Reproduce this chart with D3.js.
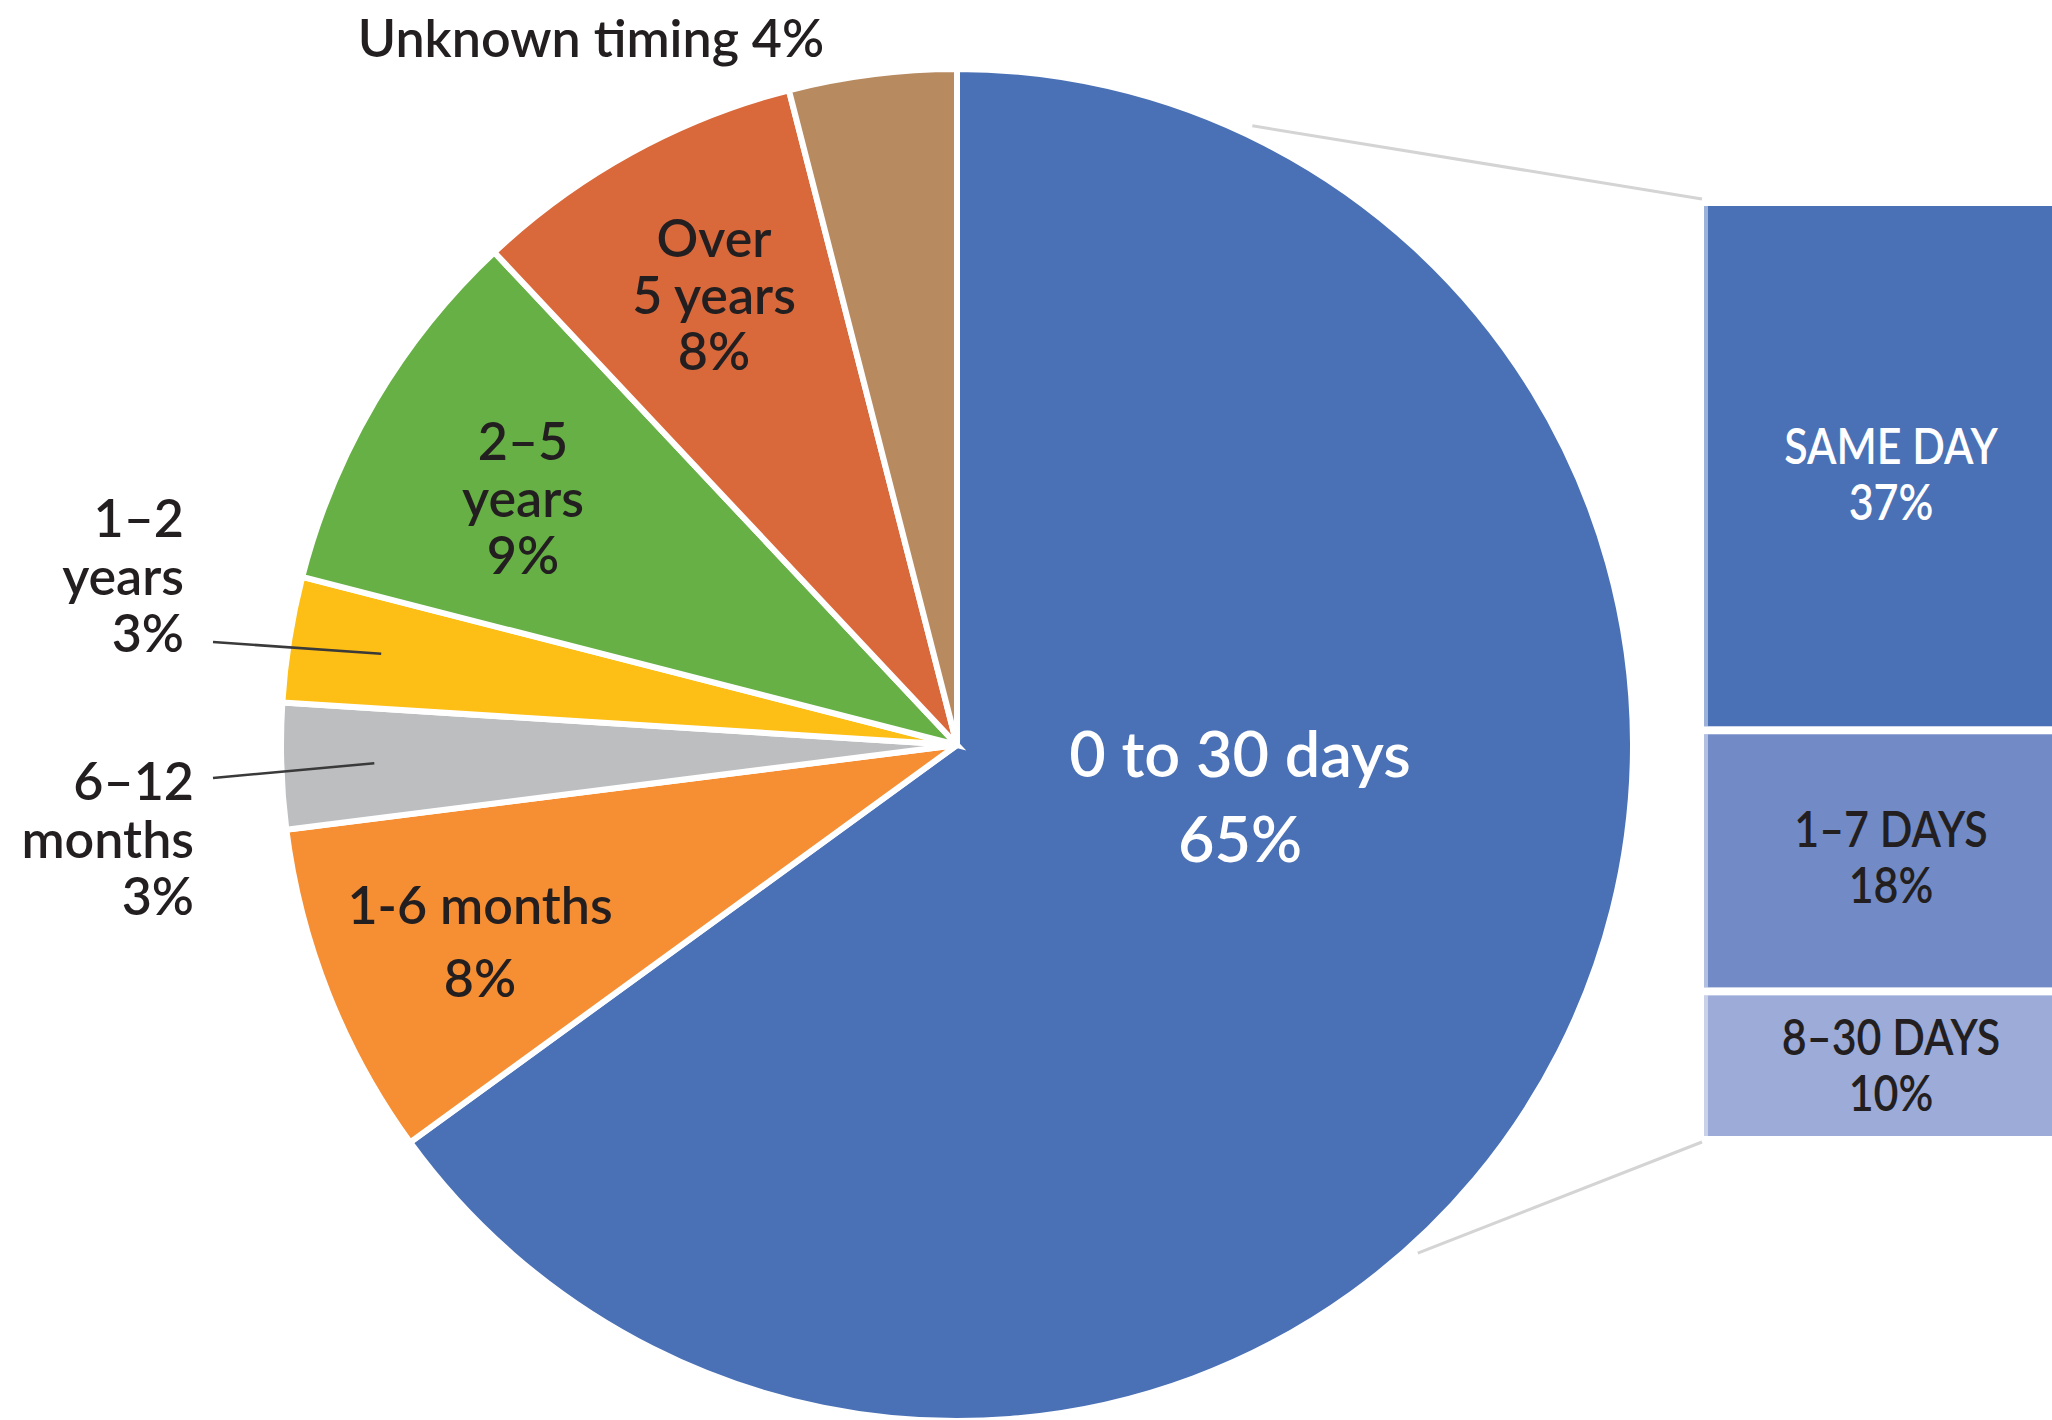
<!DOCTYPE html>
<html>
<head>
<meta charset="utf-8">
<script src="https://cdn.jsdelivr.net/npm/d3@7"></script>
<style>
  html, body { margin: 0; padding: 0; background: #ffffff; }
  svg { display: block; }
  text { font-family: Lato, "Open Sans", "Noto Sans", sans-serif; font-weight: 600; }
</style>
</head>
<body>
<svg id="chart" width="2052" height="1420"></svg>
<script>
// ---------- DATA ----------
const categories = ["0 to 30 days", "1-6 months", "6–12 months", "1–2 years", "2–5 years", "Over 5 years", "Unknown timing"];
const values = [65, 8, 3, 3, 9, 8, 4];
const labelLines = [
  ["0 to 30 days", "65%"],
  ["1-6 months", "8%"],
  ["6–12", "months", "3%"],
  ["1–2", "years", "3%"],
  ["2–5", "years", "9%"],
  ["Over", "5 years", "8%"],
  ["Unknown timing 4%"]
];
const breakdownCategories = ["SAME DAY", "1–7 DAYS", "8–30 DAYS"];
const breakdownValues = [37, 18, 10];

// ---------- STYLE / LAYOUT ----------
const sliceColors = ["#4A71B6", "#F68E33", "#BDBEC0", "#FDBE15", "#67B045", "#D9693B", "#B78A60"];
const boxColors = ["#4A71B6", "#728BC6", "#9DABD8"];
const boxTextColors = ["#ffffff", "#231F20", "#231F20"];
const textDark = "#231F20";

const cx = 957, cy = 745, R = 676;

// label layout: x, first baseline, line step, anchor, font size, color
const labelLayout = [
  { x: 1240, y: 777, step: 85, anchor: "middle", size: 63, color: "#ffffff" },
  { x: 480, y: 924, step: 73, anchor: "middle", size: 52, color: textDark },
  { x: 194, y: 800, step: 57.5, anchor: "end", size: 52, color: textDark },
  { x: 184, y: 537, step: 57.5, anchor: "end", size: 52, color: textDark },
  { x: 523, y: 460, step: 57, anchor: "middle", size: 52, color: textDark },
  { x: 714, y: 257, step: 56.5, anchor: "middle", size: 52, color: textDark },
  { x: 591, y: 57, step: 0, anchor: "middle", size: 52, color: textDark }
];
// leader lines (slice index -> outer end point)
const leaders = [
  { i: 3, x: 213, y: 642 },
  { i: 2, x: 213, y: 778 }
];

const svg = d3.select("#chart");

// ---------- PIE ----------
const pie = d3.pie().sort(null).value(d => d).startAngle(0).endAngle(2 * Math.PI);
const arcs = pie(values);
const arc = d3.arc().innerRadius(0).outerRadius(R);

const gPie = svg.append("g").attr("transform", `translate(${cx},${cy})`);
gPie.selectAll("path.slice")
  .data(arcs)
  .join("path")
  .attr("class", "slice")
  .attr("d", arc)
  .attr("fill", (d, i) => sliceColors[i])
  .attr("stroke", "#ffffff")
  .attr("stroke-width", 6)
  .attr("stroke-linejoin", "miter");

// ---------- BREAKDOWN BAR ----------
const boxX = 1704, boxW = 380, boxTop = 206, boxBottom = 1136, boxGap = 8;
const totalBreak = d3.sum(breakdownValues);
const hScale = d3.scaleLinear()
  .domain([0, totalBreak])
  .range([0, (boxBottom - boxTop) - boxGap * (breakdownValues.length - 1)]);
let acc = 0;
const boxes = breakdownValues.map((v, i) => {
  const y0 = boxTop + hScale(acc) + i * boxGap;
  acc += v;
  return { y0, h: hScale(v), v, i };
});

// connector lines from the main slice to the bar
const connectorAngles = [25.5, 137.8].map(a => a * Math.PI / 180);
const connR = R + 10;
const connPts = connectorAngles.map(a => [cx + connR * Math.sin(a), cy - connR * Math.cos(a)]);
svg.append("line")
  .attr("x1", connPts[0][0]).attr("y1", connPts[0][1])
  .attr("x2", boxX - 2).attr("y2", boxes[0].y0 - 7)
  .attr("stroke", "#D4D4D4").attr("stroke-width", 3);
const lastB = boxes[boxes.length - 1];
svg.append("line")
  .attr("x1", connPts[1][0]).attr("y1", connPts[1][1])
  .attr("x2", boxX - 2).attr("y2", lastB.y0 + lastB.h + 6)
  .attr("stroke", "#D4D4D4").attr("stroke-width", 3);

const gBox = svg.append("g");
gBox.selectAll("rect.box")
  .data(boxes)
  .join("rect")
  .attr("class", "box")
  .attr("x", boxX)
  .attr("y", d => d.y0)
  .attr("width", boxW)
  .attr("height", d => d.h)
  .attr("fill", d => boxColors[d.i]);
// light left edges
gBox.selectAll("rect.edge")
  .data(boxes)
  .join("rect")
  .attr("class", "edge")
  .attr("x", boxX)
  .attr("y", d => d.y0)
  .attr("width", 4)
  .attr("height", d => d.h)
  .attr("fill", "#ffffff")
  .attr("opacity", 0.45);

// box labels
const boxLabelX = 1891;
const boxLabelFirst = [464, 847, 1055];
boxes.forEach((b, i) => {
  const g = svg.append("g")
    .attr("transform", `translate(${boxLabelX},${boxLabelFirst[i]}) scale(0.86,1)`);
  g.append("text")
    .attr("x", 0).attr("y", 0)
    .attr("text-anchor", "middle")
    .attr("font-size", 50)
    .attr("fill", boxTextColors[i])
    .text(breakdownCategories[i]);
  g.append("text")
    .attr("x", 0).attr("y", 56)
    .attr("text-anchor", "middle")
    .attr("font-size", 50)
    .attr("fill", boxTextColors[i])
    .text(b.v + "%");
});

// ---------- LEADER LINES ----------
const leaderArc = d3.arc().innerRadius(583).outerRadius(583);
leaders.forEach(l => {
  const c = leaderArc.centroid(arcs[l.i]);
  svg.append("line")
    .attr("x1", l.x).attr("y1", l.y)
    .attr("x2", cx + c[0]).attr("y2", cy + c[1])
    .attr("stroke", "#3a3a3a").attr("stroke-width", 2.5);
});

// ---------- SLICE LABELS ----------
labelLines.forEach((lines, i) => {
  const L = labelLayout[i];
  const t = svg.append("text")
    .attr("text-anchor", L.anchor)
    .attr("font-size", L.size)
    .attr("fill", L.color);
  lines.forEach((s, k) => {
    t.append("tspan").attr("x", L.x).attr("y", L.y + k * L.step).text(s);
  });
});
</script>
</body>
</html>
